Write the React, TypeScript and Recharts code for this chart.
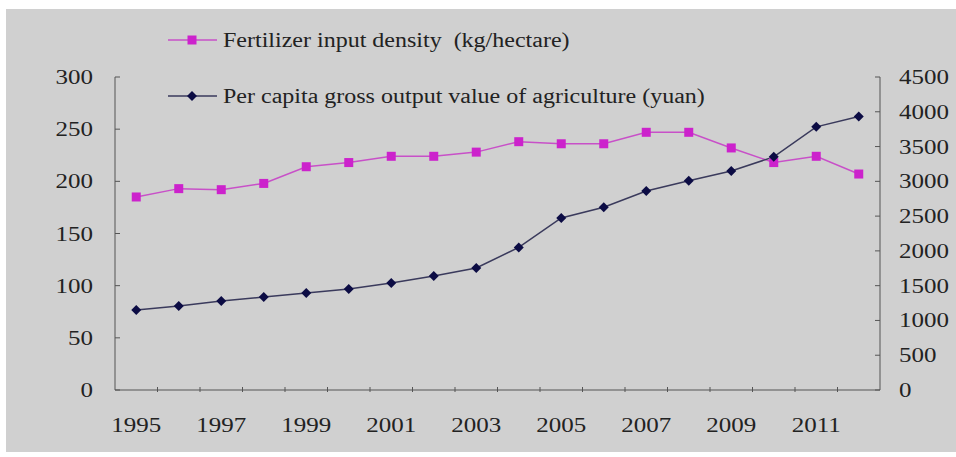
import React from 'react';
import { LineChart, Line, XAxis, YAxis, Legend } from 'recharts';

const years = [
  '1995', '1996', '1997', '1998', '1999', '2000', '2001', '2002', '2003',
  '2004', '2005', '2006', '2007', '2008', '2009', '2010', '2011', '2012',
];
const fertilizer = [185, 193, 192, 198, 214, 218, 224, 224, 228, 238, 236, 236, 247, 247, 232, 218, 224, 207];
const perCapita = [1150, 1208, 1280, 1337, 1395, 1452, 1540, 1639, 1754, 2050, 2473, 2628, 2861, 3007, 3148, 3352, 3783, 3932];
const leftTicks = [0, 50, 100, 150, 200, 250, 300];
const rightTicks = [0, 500, 1000, 1500, 2000, 2500, 3000, 3500, 4000, 4500];

const data = years.map((year, i) => ({ year, fertilizer: fertilizer[i], perCapita: perCapita[i] }));

const FONT = '"Liberation Serif", "Times New Roman", serif';
const PINK = '#cc22cc';
const NAVY = '#0c0c44';
const AXIS = '#555';
const HALF_BAND = 21.25;

const XTick = (props: any) => {
  const { x, y, payload } = props;
  const idx = payload?.index ?? props.index ?? 0;
  return (
    <g>
      {idx < years.length - 1 && (
        <line x1={x + HALF_BAND} x2={x + HALF_BAND} y1={y} y2={y - 5} stroke={AXIS} />
      )}
      {idx % 2 === 0 && (
        <text
          transform={`translate(${x},${y + 40}) scale(1.25,1)`}
          textAnchor="middle"
          fontFamily={FONT}
          fontSize={20}
          fill="#222"
        >
          {payload.value}
        </text>
      )}
    </g>
  );
};

const LeftTick = (props: any) => {
  const { x, y, payload } = props;
  return (
    <g>
      <line x1={x + 22} x2={x + 27} y1={y} y2={y} stroke={AXIS} />
      <text
        transform={`translate(${x},${y + 7}) scale(1.25,1)`}
        textAnchor="end"
        fontFamily={FONT}
        fontSize={20}
        fill="#222"
      >
        {payload.value}
      </text>
    </g>
  );
};

const RightTick = (props: any) => {
  const { x, y, payload } = props;
  return (
    <g>
      <line x1={x - 19} x2={x - 24} y1={y} y2={y} stroke={AXIS} />
      <text
        transform={`translate(${x},${y + 7}) scale(1.25,1)`}
        textAnchor="start"
        fontFamily={FONT}
        fontSize={20}
        fill="#222"
      >
        {payload.value}
      </text>
    </g>
  );
};

const SquareDot = (props: any) => {
  const { cx, cy, index } = props;
  return <rect key={`s${index}`} x={cx - 4.5} y={cy - 4.5} width={9} height={9} fill={PINK} />;
};

const DiamondDot = (props: any) => {
  const { cx, cy, index } = props;
  return (
    <polygon
      key={`d${index}`}
      points={`${cx},${cy - 5} ${cx + 5},${cy} ${cx},${cy + 5} ${cx - 5},${cy}`}
      fill={NAVY}
    />
  );
};

const legendItems = [
  { name: 'Fertilizer input density  (kg/hectare)', color: PINK, line: '#c850c8', shape: 'square' },
  { name: 'Per capita gross output value of agriculture (yuan)', color: NAVY, line: '#3a3a5c', shape: 'diamond' },
];

const LegendContent = () => (
  <div style={{ fontFamily: FONT }}>
    {legendItems.map((item) => (
      <div key={item.name} style={{ display: 'flex', alignItems: 'center', height: 56 }}>
        <svg width={56} height={14} style={{ flex: 'none' }}>
          <line x1={3} x2={52} y1={7} y2={7} stroke={item.line} strokeWidth={1.5} />
          {item.shape === 'square' ? (
            <rect x={22.5} y={2.5} width={9} height={9} fill={item.color} />
          ) : (
            <polygon points="27,2 32,7 27,12 22,7" fill={item.color} />
          )}
        </svg>
        <span
          style={{
            fontSize: 20,
            color: '#222',
            whiteSpace: 'pre',
            transform: 'scaleX(1.2)',
            transformOrigin: 'left center',
            marginLeft: 2,
          }}
        >
          {item.name}
        </span>
      </div>
    ))}
  </div>
);

export default function App() {
  return (
    <div style={{ position: 'absolute', left: 0, top: 0, width: 956, height: 457, background: '#fff' }}>
      <div style={{ position: 'absolute', left: 6, top: 9, width: 950, height: 443, background: '#d0d0d0' }} />
      <div style={{ position: 'absolute', left: 0, top: 0 }}>
        <LineChart width={956} height={457} data={data} margin={{ top: 77, right: 0, bottom: 0, left: 0 }}>
          <XAxis
            dataKey="year"
            interval={0}
            padding={{ left: HALF_BAND, right: HALF_BAND }}
            tickLine={false}
            tickSize={0}
            tick={<XTick />}
            stroke={AXIS}
            height={67}
          />
          <YAxis
            yAxisId="left"
            domain={[0, 300]}
            ticks={leftTicks}
            width={115}
            tickLine={false}
            tickSize={0}
            tickMargin={22}
            tick={<LeftTick />}
            stroke={AXIS}
          />
          <YAxis
            yAxisId="right"
            orientation="right"
            domain={[0, 4500]}
            ticks={rightTicks}
            width={76}
            tickLine={false}
            tickSize={0}
            tickMargin={19}
            tick={<RightTick />}
            stroke={AXIS}
          />
          <Legend
            layout="vertical"
            align="center"
            verticalAlign="middle"
            content={<LegendContent />}
            wrapperStyle={{ left: 165, top: 12, width: 600 }}
          />
          <Line
            yAxisId="left"
            dataKey="fertilizer"
            name="Fertilizer input density  (kg/hectare)"
            stroke="#c850c8"
            strokeWidth={1.5}
            dot={SquareDot}
            isAnimationActive={false}
          />
          <Line
            yAxisId="right"
            dataKey="perCapita"
            name="Per capita gross output value of agriculture (yuan)"
            stroke="#3a3a5c"
            strokeWidth={1.5}
            dot={DiamondDot}
            isAnimationActive={false}
          />
        </LineChart>
      </div>
    </div>
  );
}
